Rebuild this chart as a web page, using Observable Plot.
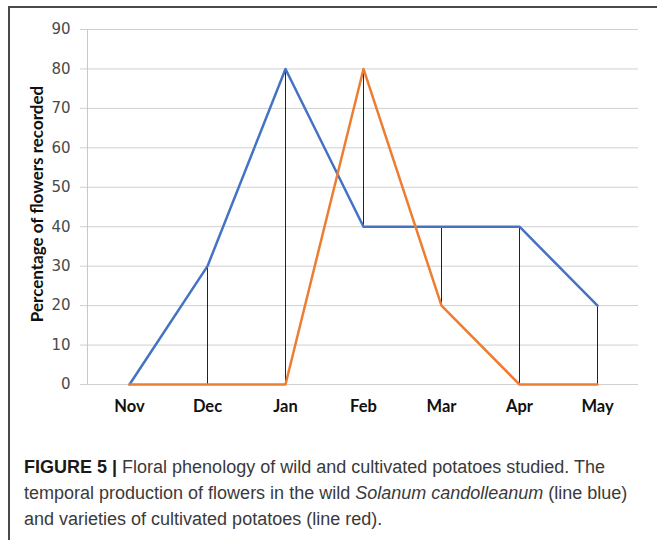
<!DOCTYPE html>
<html>
<head>
<meta charset="utf-8">
<script src="https://cdn.jsdelivr.net/npm/d3@7"></script>
<script src="https://cdn.jsdelivr.net/npm/@observablehq/plot@0.6"></script>
<style>
  html, body { margin: 0; padding: 0; background: #fff; width: 657px; height: 540px; overflow: hidden; }
  #box { position: absolute; left: 8px; top: 6px; width: 700px; height: 600px; z-index: 2; pointer-events: none;
         border-top: 2px solid #4a4a4a; border-left: 2px solid #4a4a4a; box-sizing: border-box; }
  #chart { position: absolute; left: 0; top: 0; }
  #chart svg { background: transparent; }
  #caption { position: absolute; left: 24px; top: 454px; width: 640px;
             font-family: "Liberation Sans", Arial, sans-serif; font-size: 18px; line-height: 26px; color: #3a3a3a; }
  #caption b { color: #1a1a1a; }
</style>
</head>
<body>
<div id="box"></div>
<div id="chart"></div>
<div id="caption"><b>FIGURE 5 |</b> Floral phenology of wild and cultivated potatoes studied. The<br>temporal production of flowers in the wild <i>Solanum candolleanum</i> (line blue)<br>and varieties of cultivated potatoes (line red).</div>
<script>
const months = ["Nov", "Dec", "Jan", "Feb", "Mar", "Apr", "May"];
const wild = [0, 30, 80, 40, 40, 40, 20];
const cultivated = [0, 0, 0, 80, 20, 0, 0];
const yTicks = [0, 10, 20, 30, 40, 50, 60, 70, 80, 90];
const yTitle = "Percentage of flowers recorded";

const wildData = months.map((m, i) => ({month: m, value: wild[i]}));
const cultData = months.map((m, i) => ({month: m, value: cultivated[i]}));
const hiLo = months.map((m, i) => ({month: m, lo: Math.min(wild[i], cultivated[i]), hi: Math.max(wild[i], cultivated[i])}));

const plot = Plot.plot({
  width: 657,
  height: 430,
  marginLeft: 87,
  marginRight: 19,
  marginTop: 29,
  marginBottom: 46,
  style: {background: "transparent", overflow: "visible"},
  x: {type: "point", domain: months, padding: 0.5},
  y: {domain: [0, 90]},
  marks: [
    Plot.gridY(yTicks, {stroke: "#d0d0d0", strokeOpacity: 1, strokeWidth: 1}),
    Plot.frame({anchor: "left", stroke: "#c8c8c8", strokeWidth: 1}),
    Plot.axisY(yTicks, {tickSize: 7, tickPadding: 10, stroke: "#d0d0d0", fill: "#4a4a4a",
      fontSize: 14, fontFamily: "DejaVu Sans", label: null}),
    Plot.axisX({tickSize: 0, tickPadding: 16, fontSize: 16.5, fontWeight: "bold",
      fontFamily: "Lato", fill: "#111", label: null}),
    Plot.ruleX(hiLo, {x: "month", y1: "lo", y2: "hi", stroke: "#222", strokeWidth: 1}),
    Plot.line(wildData, {x: "month", y: "value", stroke: "#4472C4", strokeWidth: 2.5}),
    Plot.line(cultData, {x: "month", y: "value", stroke: "#ED7D31", strokeWidth: 2.5}),
    Plot.text([yTitle], {frameAnchor: "left", textAnchor: "middle", dx: -50, dy: -3, rotate: -90, fontSize: 17,
      fontWeight: "bold", fontFamily: "Lato", fill: "#111"})
  ]
});
d3.select(plot).selectAll('g[aria-label="y-axis tick label"]')
  .attr("font-size", 15).style("font-size", "15px").style("font-family", "'DejaVu Sans', sans-serif");
document.getElementById("chart").appendChild(plot);
</script>
</body>
</html>
